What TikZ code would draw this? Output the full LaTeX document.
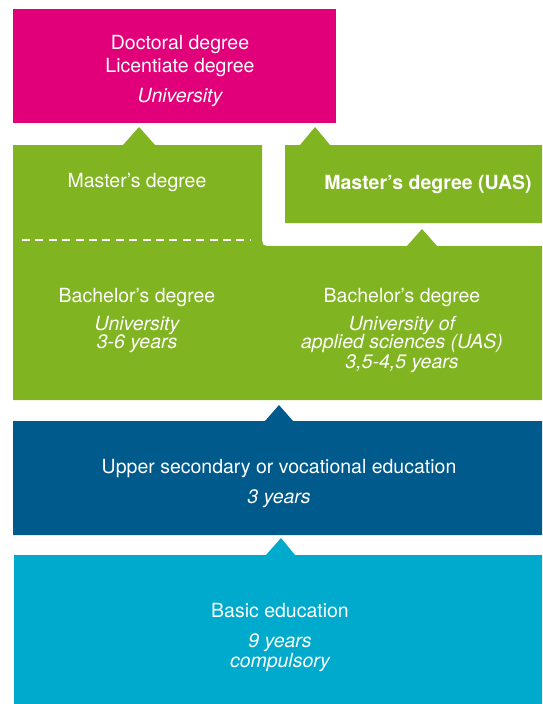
\documentclass[tikz,border=0pt]{standalone}
\usepackage{fontspec}
\setmainfont{TeX Gyre Heros}

\definecolor{phdpink}{RGB}{226,0,122}
\definecolor{unigreen}{RGB}{128,180,32}
\definecolor{upperblue}{RGB}{0,90,140}
\definecolor{basicblue}{RGB}{0,170,204}

\begin{document}
\begin{tikzpicture}[
    x=1pt, y=-1pt,
    label/.style={text=white, inner sep=0pt, anchor=base,
      font=\fontsize{19.5}{20}\selectfont},
    sublabel/.style={label, font=\fontsize{19.5}{20}\selectfont\itshape}]
    % 画布大小
    \useasboundingbox (0,0) rectangle (542,704);
    % 博士学位方块
    \fill[phdpink] (13,9) rectangle (336,123);
    % 大学硕士与学士(带箭头和圆角缺口)
    \fill[unigreen] (13,145) -- (123,145) -- (139,127) -- (155,145)
      -- (262,145) -- (262,235) .. controls (262,246) .. (273,246)
      -- (407,246) -- (422,229) -- (437,246) -- (542,246)
      -- (542,400) -- (13,400) -- cycle;
    % 应用科学大学硕士
    \fill[unigreen] (285,145) -- (300,145) -- (315,127) -- (330,145)
      -- (542,145) -- (542,223) -- (285,223) -- cycle;
    % 硕士与学士之间的虚线
    \draw[white, line width=2pt, dash pattern=on 8pt off 5.4pt] (22,240) -- (251,240);
    % 高中或职业教育
    \fill[upperblue] (13,421) -- (265,421) -- (279,405) -- (293,421)
      -- (542,421) -- (542,535) -- (13,535) -- cycle;
    % 基础教育
    \fill[basicblue] (14,555) -- (266,555) -- (281,538) -- (295,555)
      -- (542,555) -- (542,704) -- (14,704) -- cycle;

    % 文字
    \node[label] (doctoral) at (180,49.5) {Doctoral degree};
    \node[label] (licentiate) at (180,72) {Licentiate degree};
    \node[sublabel] (doctoraluni) at (180,102) {University};
    \node[label] (master) at (137,187) {Master’s degree};
    \node[label, font=\fontsize{19.5}{20}\selectfont\bfseries] (masteruas) at (428,189) {Master’s degree (UAS)};
    \node[label] (bachelor) at (137,302) {Bachelor’s degree};
    \node[sublabel] (bacheloruni) at (137,330) {University};
    \node[sublabel] (bacheloryears) at (137,348.5) {3-6 years};
    \node[label] (bacheloruas) at (402,302) {Bachelor’s degree};
    \node[sublabel] (uasname) at (402,330) {University of};
    \node[sublabel] (uasname2) at (402,348.5) {applied sciences (UAS)};
    \node[sublabel] (uasyears) at (402,368.5) {3,5-4,5 years};
    \node[label] (upper) at (279,473.5) {Upper secondary or vocational education};
    \node[sublabel] (upperyears) at (279,503.5) {3 years};
    \node[label] (basic) at (280,617.5) {Basic education};
    \node[sublabel] (basicyears) at (280,647.5) {9 years};
    \node[sublabel] (basiccomp) at (280,667) {compulsory};
\end{tikzpicture}
\end{document}
